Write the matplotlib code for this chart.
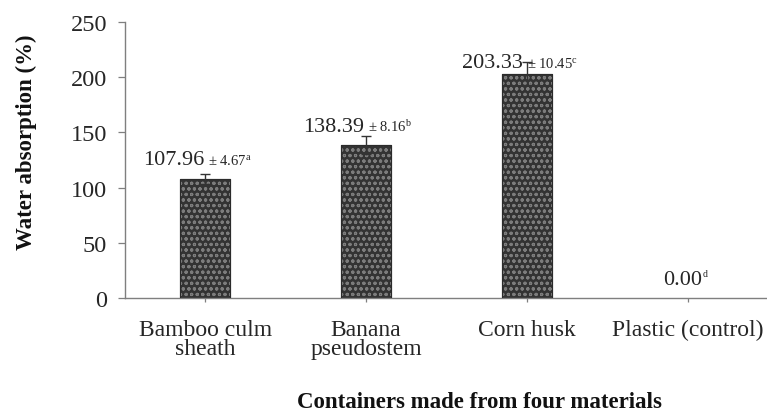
import matplotlib
matplotlib.use("Agg")
import matplotlib.pyplot as plt
import numpy as np

categories = ["Bamboo culm\nsheath", "Banana\npseudostem", "Corn husk", "Plastic (control)"]
values = [107.96, 138.39, 203.33, 0.00]
errors = [4.67, 8.16, 10.45, 0.0]
letters = ["a", "b", "c", "d"]
value_labels = ["107.96", "138.39", "203.33", "0.00"]
error_labels = ["4.67", "8.16", "10.45", None]
yticks = [0, 50, 100, 150, 200, 250]

# layout (pixels -> points at dpi 100)
label_dy = [13.5, 13.0, 6.0, 12.7]      # data units above bar top (baseline)
label_dx_px = [-1, -2, -4, 14]          # right edge of value text relative to tick

plt.rcParams['font.family'] = ['Liberation Serif', 'DejaVu Serif']
plt.rcParams['mathtext.fontset'] = 'custom'
plt.rcParams['mathtext.rm'] = 'Liberation Serif'
plt.rcParams['mathtext.it'] = 'Liberation Serif:italic'
plt.rcParams['hatch.linewidth'] = 0.8

txt = '#262626'
axc = '#7f7f7f'

fig = plt.figure(figsize=(7.67, 4.14), dpi=100)
ax = fig.add_axes([125/767, 1-299/414, 643/767, 276/414])

x = np.arange(len(categories))
w = 0.31
vals = np.array(values)
nz = vals > 0
ax.bar(x[nz], vals[nz], width=w, color='#333333', edgecolor='#2b2b2b', linewidth=0.8, zorder=2)
ax.bar(x[nz], vals[nz], width=w, color='none', edgecolor='#7c7c7c', hatch='ooo', linewidth=0, zorder=3)
ax.bar(x[nz], vals[nz], width=w, color='none', edgecolor='#2b2b2b', linewidth=0.8, zorder=3)
ax.errorbar(x[nz], vals[nz], yerr=np.array(errors)[nz], fmt='none', ecolor='#333333',
            elinewidth=1.0, capsize=3.6, capthick=1.0, zorder=4)

ax.set_xlim(-0.5, 3.5)
ax.set_ylim(0, 250)
ax.set_yticks(yticks)
ax.set_yticklabels([str(t) for t in yticks], fontsize=17.5, color=txt)
ax.set_xticks(x)
ax.set_xticklabels(categories, fontsize=17, color=txt, linespacing=0.9)
ax.tick_params(axis='y', direction='out', length=5, width=0.9, color=axc, pad=8)
ax.tick_params(axis='x', direction='out', length=3, width=0.9, color=axc, pad=12)
for s in ['top', 'right']:
    ax.spines[s].set_visible(False)
for s in ['left', 'bottom']:
    ax.spines[s].set_color(axc)
    ax.spines[s].set_linewidth(1.0)

fig.text(26/767, 1-142/414, "Water absorption (%)", rotation=90, fontsize=16.5,
         fontweight='bold', color='#111111', ha='center', va='center')
fig.text(479/767, 1-408/414, "Containers made from four materials", fontsize=16.5,
         fontweight='bold', color='#111111', ha='center', va='baseline')

for i in range(len(categories)):
    y = values[i] + label_dy[i]
    dx = label_dx_px[i] * 0.72
    ax.annotate(value_labels[i], xy=(x[i], y), xytext=(dx, 0), textcoords='offset points',
                ha='right', va='baseline', fontsize=16, color=txt)
    if error_labels[i] is not None:
        s = r"$\mathrm{\pm\ %s}^{\mathrm{%s}}$" % (error_labels[i], letters[i])
        ax.annotate(s, xy=(x[i], y), xytext=(dx + 4*0.72, 0), textcoords='offset points',
                    ha='left', va='baseline', fontsize=10.5, color=txt)
    else:
        ax.annotate(letters[i], xy=(x[i], y), xytext=(dx + 1*0.72, 8*0.72), textcoords='offset points',
                    ha='left', va='baseline', fontsize=7, color=txt)

fig.savefig("out.png", dpi=100)
